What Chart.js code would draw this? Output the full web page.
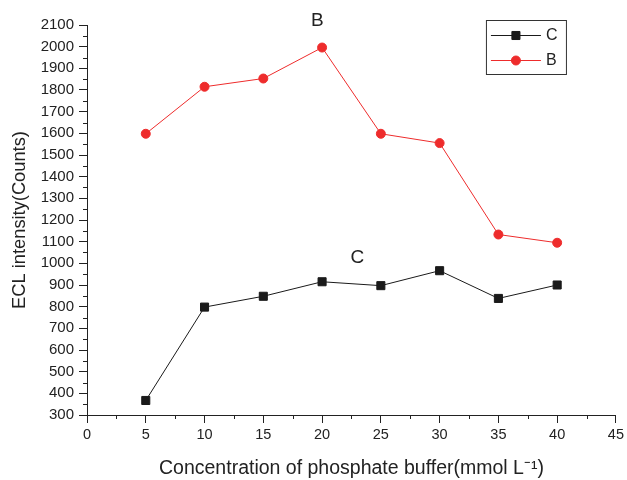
<!DOCTYPE html>
<html>
<head>
<meta charset="utf-8">
<script src="https://cdn.jsdelivr.net/npm/chart.js@4.4.1/dist/chart.umd.min.js"></script>
<style>
html,body{margin:0;padding:0;background:#fff;}
#wrap{width:627px;height:480px;}
</style>
</head>
<body>
<div id="wrap"><canvas id="c" width="627" height="480"></canvas></div>
<script>
// ---- data ----
const concentrations = [5, 10, 15, 20, 25, 30, 35, 40];
const seriesC = [367, 798, 848, 915, 897, 966, 838, 900];
const seriesB = [1598, 1815, 1853, 1996, 1598, 1555, 1133, 1095];
const seriesNames = ['C', 'B'];
const annotationLabels = ['B', 'C'];
const annotationX = [19.6, 23.0];
const annotationY = [2121, 1027];
const xTitle = 'Concentration of phosphate buffer(mmol L\u207B\u00B9)';
const yTitle = 'ECL intensity(Counts)';

const FONT = '"Liberation Sans", Arial, Helvetica, sans-serif';
const TXT = '#222222';
const AX = '#222222';
const RED = '#ee2c2c';
const BLK = '#1a1a1a';

const extras = {
  id: 'extras',
  afterDraw(chart) {
    const ctx = chart.ctx;
    const xs = chart.scales.x, ys = chart.scales.y;
    const ca = chart.chartArea;
    ctx.save();
    // minor ticks
    ctx.strokeStyle = AX;
    ctx.lineWidth = 1;
    ctx.beginPath();
    for (let v = 350; v < 2100; v += 100) {
      const y = Math.round(ys.getPixelForValue(v)) + 0.5;
      ctx.moveTo(ca.left, y); ctx.lineTo(ca.left - 4, y);
    }
    for (let v = 2.5; v < 45; v += 5) {
      const x = Math.round(xs.getPixelForValue(v)) + 0.5;
      ctx.moveTo(x, ca.bottom); ctx.lineTo(x, ca.bottom + 4);
    }
    ctx.stroke();
    // annotations
    ctx.fillStyle = TXT;
    ctx.font = '19px ' + FONT;
    ctx.textAlign = 'center';
    ctx.textBaseline = 'middle';
    annotationLabels.forEach((t, i) => {
      ctx.fillText(t, xs.getPixelForValue(annotationX[i]), ys.getPixelForValue(annotationY[i]));
    });
    // legend
    const bx = ca.right - 130, by = ca.top - 5, bw = 80, bh = 54;
    ctx.strokeStyle = '#333';
    ctx.lineWidth = 1;
    ctx.strokeRect(bx + 0.5, by + 0.5, bw, bh);
    chart.data.datasets.forEach((ds, i) => {
      const y = by + 15 + i * 25;
      ctx.strokeStyle = ds.borderColor;
      ctx.lineWidth = 1;
      ctx.beginPath();
      ctx.moveTo(bx + 5, y + 0.5); ctx.lineTo(bx + 55, y + 0.5);
      ctx.stroke();
      ctx.fillStyle = ds.pointBackgroundColor;
      ctx.strokeStyle = ds.pointBorderColor;
      ctx.beginPath();
      if (ds.pointStyle === 'rect') {
        const s = ds.pointRadius * Math.SQRT1_2;
        ctx.rect(bx + 30 - s, y + 0.5 - s, 2 * s, 2 * s);
      } else {
        ctx.arc(bx + 30, y + 0.5, ds.pointRadius, 0, Math.PI * 2);
      }
      ctx.fill(); ctx.stroke();
      ctx.fillStyle = TXT;
      ctx.font = '16px ' + FONT;
      ctx.textAlign = 'left';
      ctx.textBaseline = 'middle';
      ctx.fillText(ds.label, bx + 60, y + 1);
    });
    ctx.restore();
  }
};

const toXY = (vals) => vals.map((v, i) => ({x: concentrations[i], y: v}));

new Chart(document.getElementById('c'), {
  type: 'line',
  data: {
    datasets: [
      {
        label: seriesNames[0], data: toXY(seriesC),
        borderColor: BLK, backgroundColor: BLK, borderWidth: 1,
        pointStyle: 'rect', pointRadius: 5.7, pointBackgroundColor: BLK,
        pointBorderColor: BLK, pointBorderWidth: 1, tension: 0
      },
      {
        label: seriesNames[1], data: toXY(seriesB),
        borderColor: RED, backgroundColor: RED, borderWidth: 1,
        pointStyle: 'circle', pointRadius: 4.5, pointBackgroundColor: RED,
        pointBorderColor: RED, pointBorderWidth: 1, tension: 0
      }
    ]
  },
  options: {
    responsive: false,
    animation: false,
    devicePixelRatio: 1,
    layout: { padding: { top: 25, right: 10, left: 0, bottom: 0 } },
    plugins: { legend: { display: false }, tooltip: { enabled: false } },
    scales: {
      x: {
        type: 'linear', min: 0, max: 45,
        afterFit(s) { s.height = 65; },
        ticks: { stepSize: 5, color: TXT, font: { family: FONT, size: 14.5 }, padding: 3, maxRotation: 0,
                 callback: (v) => String(v) },
        grid: { drawOnChartArea: false, tickLength: 8, color: AX, tickColor: AX },
        border: { color: AX, width: 1 },
        title: { display: true, text: xTitle, color: TXT, font: { family: FONT, size: 19.5 }, padding: { top: 0, bottom: 0 } }
      },
      y: {
        min: 300, max: 2100,
        afterFit(s) { s.width = 87; },
        ticks: { stepSize: 100, color: TXT, font: { family: FONT, size: 15 }, padding: 5,
                 callback: (v) => String(v) },
        grid: { drawOnChartArea: false, tickLength: 8, color: AX, tickColor: AX },
        border: { color: AX, width: 1 },
        title: { display: true, text: yTitle, color: TXT, font: { family: FONT, size: 18.3 }, padding: { top: 9, bottom: 0 } }
      }
    }
  },
  plugins: [extras]
});
</script>
</body>
</html>
